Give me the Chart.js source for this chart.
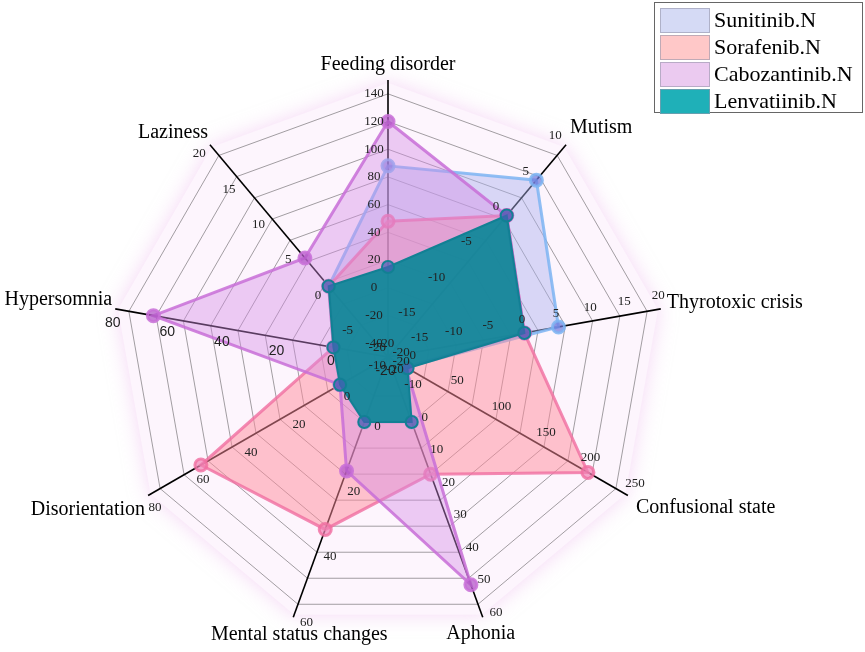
<!DOCTYPE html>
<html>
<head>
<meta charset="utf-8">
<script src="https://cdn.jsdelivr.net/npm/chart.js@4.4.1/dist/chart.umd.min.js"></script>
<style>
  html, body { margin: 0; padding: 0; background: #fff; }
  canvas { display: block; }
</style>
</head>
<body>
<canvas id="radar" width="865" height="652"></canvas>
<script>
// axes, clockwise from the top
const axes = ['Feeding disorder', 'Mutism', 'Thyrotoxic crisis', 'Confusional state', 'Aphonia',
  'Mental status changes', 'Disorientation', 'Hypersomnia', 'Laziness'];
// every axis has its own scale (centre -> end of axis line)
const axisMin = [-50, -20, -20, -20, -20, -20, -20, -20, -10];
const axisMax = [150, 10, 20, 250, 60, 60, 80, 80, 20];
// tick labels of each axis
const axisTicks = [
  [-40, -20, 0, 20, 40, 60, 80, 100, 120, 140],
  [-20, -15, -10, -5, 0, 5, 10],
  [-20, -15, -10, -5, 0, 5, 10, 15, 20],
  [0, 50, 100, 150, 200, 250],
  [-20, -10, 0, 10, 20, 30, 40, 50, 60],
  [-20, 0, 20, 40, 60],
  [-20, 0, 20, 40, 60, 80],
  [-20, 0, 20, 40, 60, 80],
  [-10, -5, 0, 5, 10, 15, 20]
];

const seriesNames = ['Sunitinib.N', 'Sorafenib.N', 'Cabozantinib.N', 'Lenvatiinib.N'];
const sunitinib    = [88, 5, 5, 0, 0, 0, 0, 0, 0];
const sorafenib    = [48, 0, 0, 205, 16, 33, 58, 0, 0];
const cabozantinib = [120, 0, 0, 0, 50, 15, 0, 66, 4];
const lenvatinib   = [15, 0, 0, 2, 0, 0, 0, 0, 0];

const norm = (v, i) => (v - axisMin[i]) / (axisMax[i] - axisMin[i]);
const toNorm = arr => arr.map(norm);

// ring positions (fractions of the axis length)
const rings = [0.05, 0.15, 0.25, 0.35, 0.45, 0.55, 0.65, 0.75, 0.85, 0.95];

const legendFill = ['#d5daf5', '#ffc8c8', '#ebcaf0', '#1fb0b8'];

// where axis titles sit relative to the end of each axis line
const titlePos = [
  [0, -15, 'center'], [4, -17, 'left'], [6, -6, 'left'], [8, 12, 'left'], [-2, 16, 'center'],
  [6, 17, 'center'], [-3, 14, 'right'], [-3, -9, 'right'], [-2, -12, 'right']
];

const decor = {
  id: 'decor',
  beforeDraw(chart) {
    const s = chart.scales.r, ctx = chart.ctx;
    ctx.save();
    ctx.beginPath();
    for (let i = 0; i < axes.length; i++) {
      const p = s.getPointPosition(i, s.drawingArea * 0.99);
      i ? ctx.lineTo(p.x, p.y) : ctx.moveTo(p.x, p.y);
    }
    ctx.closePath();
    ctx.shadowColor = 'rgba(235,175,235,0.5)';
    ctx.shadowBlur = 20;
    ctx.fillStyle = 'rgb(253,245,253)';
    ctx.fill();
    ctx.restore();
  },
  afterDraw(chart) {
    const s = chart.scales.r, ctx = chart.ctx;
    ctx.save();
    // tick labels, set beside each axis
    ctx.textAlign = 'center';
    ctx.textBaseline = 'middle';
    ctx.fillStyle = '#222';
    axisTicks.forEach((ticks, i) => {
      const a = s.getIndexAngle(i) - Math.PI / 2;
      const ox = Math.sin(a) * 14, oy = -Math.cos(a) * 14;
      ctx.font = i === 7 ? '14px "Liberation Sans", Arial' : '13px "Liberation Serif", "Times New Roman"';
      ticks.forEach(t => {
        const p = s.getPointPositionForValue(i, norm(t, i));
        ctx.fillText(String(t), p.x + ox, p.y + oy);
      });
    });
    // axis titles
    ctx.font = '20px "Liberation Serif", "Times New Roman"';
    ctx.fillStyle = '#000';
    axes.forEach((name, i) => {
      const p = s.getPointPosition(i, s.drawingArea);
      ctx.textAlign = titlePos[i][2];
      ctx.fillText(name, p.x + titlePos[i][0], p.y + titlePos[i][1]);
    });
    // legend
    const lx = 654, ly = 2, lw = 208, lh = 110;
    ctx.fillStyle = '#fff';
    ctx.fillRect(lx, ly, lw, lh);
    ctx.strokeStyle = '#666';
    ctx.lineWidth = 1;
    ctx.strokeRect(lx + 0.5, ly + 0.5, lw, lh);
    ctx.font = '22px "Liberation Serif", "Times New Roman"';
    ctx.textAlign = 'left';
    seriesNames.forEach((n, k) => {
      const y = ly + 6 + k * 27;
      ctx.fillStyle = legendFill[k];
      ctx.fillRect(lx + 6, y, 50, 25);
      ctx.strokeStyle = 'rgba(150,150,170,0.6)';
      ctx.strokeRect(lx + 6.5, y + 0.5, 49, 24);
      ctx.fillStyle = '#000';
      ctx.fillText(n, lx + 60, y + 13);
    });
    ctx.restore();
  }
};

new Chart(document.getElementById('radar'), {
  type: 'radar',
  data: {
    labels: axes,
    datasets: [
      {
        label: seriesNames[0], data: toNorm(sunitinib), order: 4,
        backgroundColor: 'rgba(170,178,238,0.45)', borderColor: 'rgba(125,180,242,0.85)', borderWidth: 3,
        pointBackgroundColor: 'rgba(110,120,220,0.7)'
      },
      {
        label: seriesNames[1], data: toNorm(sorafenib), order: 3,
        backgroundColor: 'rgba(255,140,155,0.5)', borderColor: 'rgba(240,110,160,0.8)', borderWidth: 3,
        pointBackgroundColor: 'rgba(240,130,180,0.7)'
      },
      {
        label: seriesNames[2], data: toNorm(cabozantinib), order: 2,
        backgroundColor: 'rgba(212,140,228,0.42)', borderColor: 'rgba(200,110,215,0.85)', borderWidth: 3,
        pointBackgroundColor: 'rgba(180,90,200,0.75)'
      },
      {
        label: seriesNames[3], data: toNorm(lenvatinib), order: 1,
        backgroundColor: 'rgba(12,135,152,0.92)', borderColor: 'rgba(18,128,148,1)', borderWidth: 2,
        pointBackgroundColor: 'rgba(70,95,180,0.7)'
      }
    ]
  },
  options: {
    responsive: false,
    animation: false,
    devicePixelRatio: 1,
    layout: { padding: { left: 111, right: 200, top: 80, bottom: 18 } },
    elements: {
      line: { tension: 0 },
      point: { radius: 6, borderWidth: 0, hoverRadius: 6 }
    },
    plugins: { legend: { display: false }, tooltip: { enabled: false } },
    scales: {
      r: {
        min: 0, max: 1,
        afterBuildTicks(scale) {
          scale.ticks = [0].concat(rings).map(v => ({ value: v }));
        },
        ticks: { display: false },
        pointLabels: { display: false },
        grid: { color: 'rgba(0,0,0,0.36)', lineWidth: 1 },
        angleLines: { color: '#000', lineWidth: 1.6 }
      }
    }
  },
  plugins: [decor]
});
</script>
</body>
</html>
